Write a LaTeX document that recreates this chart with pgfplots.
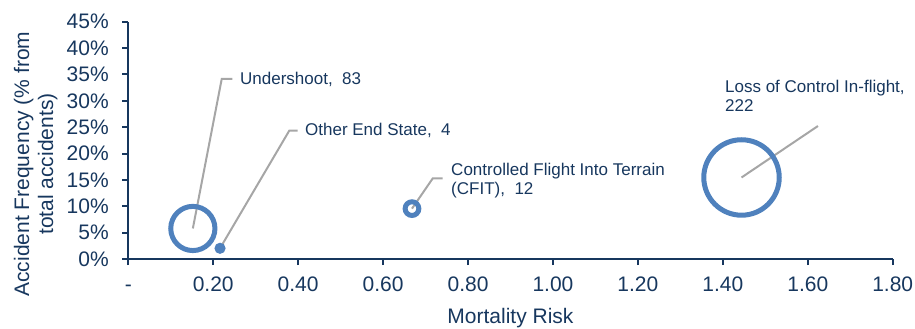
\documentclass[border=0pt]{standalone}
\usepackage{fontspec}
\setmainfont{Liberation Sans}
\usepackage{pgfplots}
\pgfplotsset{compat=1.18}
\definecolor{navy}{RGB}{23,55,94}
\definecolor{bblue}{HTML}{4F81BD}
\definecolor{lgray}{HTML}{A6A6A6}
\newcommand{\lab}{\fontsize{17bp}{18.5bp}\selectfont}
\begin{document}
\begin{tikzpicture}
\begin{axis}[
 width=764.4bp, height=237.3bp, scale only axis,
 xmin=0, xmax=1.8, ymin=0, ymax=45,
 axis lines=left,
 axis line style={-, line width=2bp, draw=navy},
 tick align=outside,
 major tick length=6bp,
 tick style={line width=2bp, draw=navy},
 xtick={0,0.2,0.4,0.6,0.8,1.0,1.2,1.4,1.6,1.8},
 xticklabels={{\vphantom{0}-\hspace{10bp}},0.20,0.40,0.60,0.80,1.00,1.20,1.40,1.60,1.80},
 ytick={0,5,10,15,20,25,30,35,40,45},
 yticklabels={0\%,5\%,10\%,15\%,20\%,25\%,30\%,35\%,40\%,45\%},
 ticklabel style={font=\fontsize{21bp}{24bp}\selectfont, text=navy},
 xticklabel style={yshift=-8bp},
 yticklabel style={xshift=-10bp},
 xlabel={Mortality Risk},
 ylabel={Accident Frequency (\% from\\total accidents)},
 label style={font=\fontsize{21bp}{24bp}\selectfont, text=navy},
 xlabel style={at={(axis description cs:0.5,-0.250)}, anchor=center},
 ylabel style={at={(axis description cs:-0.1210,0.40)}, anchor=center, align=center},
 clip=false,
]
\coordinate (o) at (rel axis cs:0,0);
\addplot[scatter, only marks, mark=o,
  scatter/use mapped color={draw=bblue, fill=none},
  mark options={line width=5bp},
  visualization depends on={2.7*sqrt(\thisrow{n})-2.5 \as \rad},
  scatter/@pre marker code/.append style={/tikz/mark size=\rad bp}]
table {
x y n
0.152 5.79 83
0.216 2.03 4
0.668 9.55 12
1.444 15.46 222
};
\draw[lgray, line width=2bp] (axis cs:0.152,5.79) -- (axis cs:0.220,34.14) -- (axis cs:0.245,34.14);
\draw[lgray, line width=2bp] (axis cs:0.216,2.03) -- (axis cs:0.379,24.33) -- (axis cs:0.399,24.33);
\draw[lgray, line width=2bp] (axis cs:0.668,9.55) -- (axis cs:0.717,15.30) -- (axis cs:0.740,15.30);
\draw[lgray, line width=2bp] (axis cs:1.444,15.46) -- (axis cs:1.624,25.22);
\node[anchor=west, inner sep=0, font=\lab, text=navy] at (axis cs:0.263,34.14) {Undershoot,\ \ 83};
\node[anchor=west, inner sep=0, font=\lab, text=navy] at (axis cs:0.416,24.3) {Other End State,\ \ 4};
\node[anchor=west, inner sep=0, font=\lab, text=navy, align=left] at (axis cs:0.760,14.89) {Controlled Flight Into Terrain\\(CFIT),\ \ 12};
\node[anchor=west, inner sep=0, font=\lab, text=navy, align=left] at (axis cs:1.405,30.94) {Loss of Control In-flight,\\222};
\end{axis}
\pgfresetboundingbox
\path[use as bounding box] (o) ++(-128.3bp,-70bp) rectangle ++(915bp,329bp);
\end{tikzpicture}
\end{document}
